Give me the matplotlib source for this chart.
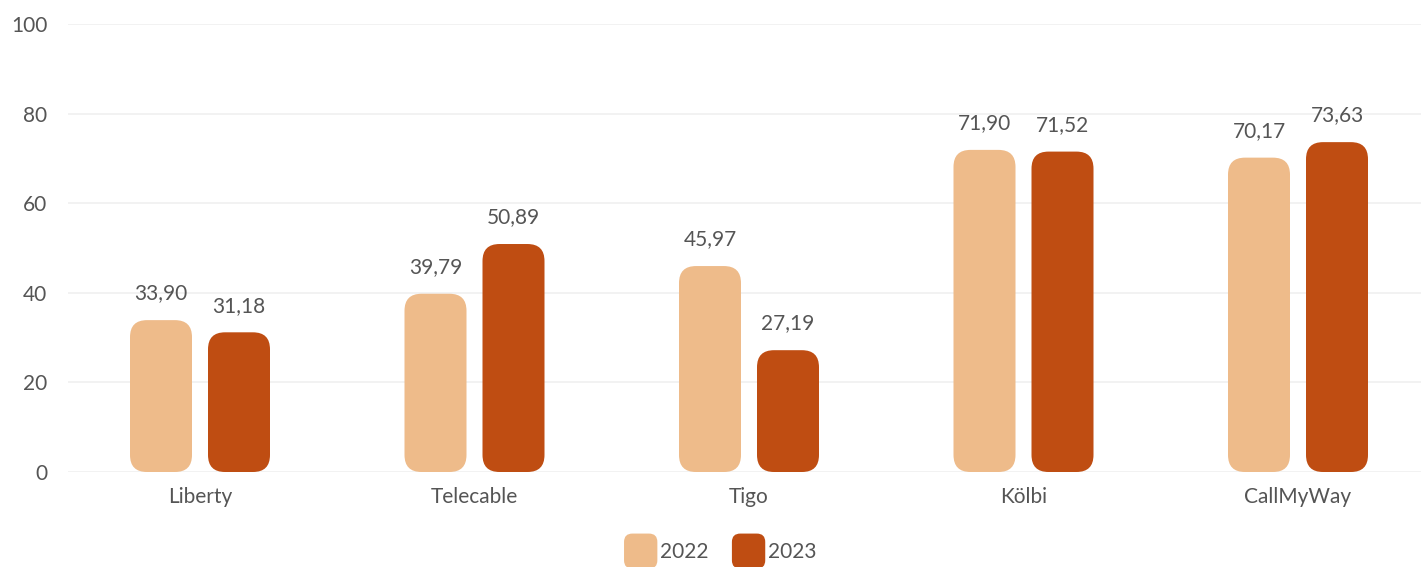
import matplotlib
matplotlib.use("Agg")
import matplotlib.pyplot as plt
from matplotlib.patches import FancyBboxPatch
from matplotlib.legend_handler import HandlerPatch
import numpy as np

categories = ["Liberty", "Telecable", "Tigo", "Kölbi", "CallMyWay"]
series_names = ["2022", "2023"]
values_2022 = [33.90, 39.79, 45.97, 71.90, 70.17]
values_2023 = [31.18, 50.89, 27.19, 71.52, 73.63]
yticks = [0, 20, 40, 60, 80, 100]

colors = ["#EEBB8A", "#BF4D12"]
text_color = "#555555"
plt.rcParams['font.family'] = ['Lato', 'DejaVu Sans']

W, H = 1421, 567
fig = plt.figure(figsize=(W / 100, H / 100), dpi=100)
ax_left, ax_right = 68, 1421
ax_bot, ax_top = H - 472, H - 24
ax = fig.add_axes([ax_left / W, ax_bot / H, (ax_right - ax_left) / W, (ax_top - ax_bot) / H])

unit_px = 274.5
x0 = (ax_left - 200) / unit_px
x1 = (ax_right - 200) / unit_px
ax.set_xlim(x0, x1)
ax.set_ylim(0, 100)

x = np.arange(len(categories))
bw = 62 / unit_px
off = 39 / unit_px
ypx = (ax_top - ax_bot) / 100.0
r_px = 17
rx = r_px / unit_px
aspect = (r_px / ypx) / rx

for vals, sign, col in [(values_2022, -1, colors[0]), (values_2023, 1, colors[1])]:
    bars = ax.bar(x + sign * off, vals, width=bw, color=col)
    for b, v in zip(bars, vals):
        bx, by = b.get_x(), b.get_y()
        w, h = b.get_width(), b.get_height()
        b.remove()
        p = FancyBboxPatch((bx, by), w, h,
                           boxstyle=f"round,pad=0,rounding_size={rx}",
                           mutation_aspect=aspect, facecolor=col, edgecolor="none",
                           zorder=3)
        ax.add_patch(p)
        ax.annotate(f"{v:.2f}".replace(".", ","), (bx + w / 2, v),
                    xytext=(0, 12), textcoords="offset points",
                    ha="center", va="bottom", fontsize=15, color=text_color)

ax.set_yticks(yticks)
ax.set_yticklabels([str(t) for t in yticks])
ax.yaxis.grid(True, color="#F0F0F0", linewidth=1.2)
ax.set_axisbelow(True)
ax.set_xticks(x)
ax.set_xticklabels(categories)
for s in ax.spines.values():
    s.set_visible(False)
ax.tick_params(axis="both", length=0, labelsize=15, labelcolor=text_color)
ax.tick_params(axis="y", pad=15)
ax.tick_params(axis="x", pad=11)


def rounded_handle(legend, orig_handle, xdescent, ydescent, width, height, fontsize):
    return FancyBboxPatch((-xdescent, -ydescent - 3), width, height + 6,
                          boxstyle="round,pad=0,rounding_size=6")


handles = [FancyBboxPatch((0, 0), 1, 1, facecolor=c, edgecolor="none") for c in colors]
leg = fig.legend(handles, series_names, loc="center", bbox_to_anchor=(0.507, 0.028),
                 ncol=2, frameon=False, fontsize=15, handlelength=1.6, handleheight=1.6,
                 handletextpad=0.15, columnspacing=1.1, labelcolor=text_color,
                 handler_map={FancyBboxPatch: HandlerPatch(patch_func=rounded_handle)})

fig.savefig("out.png", dpi=100)
